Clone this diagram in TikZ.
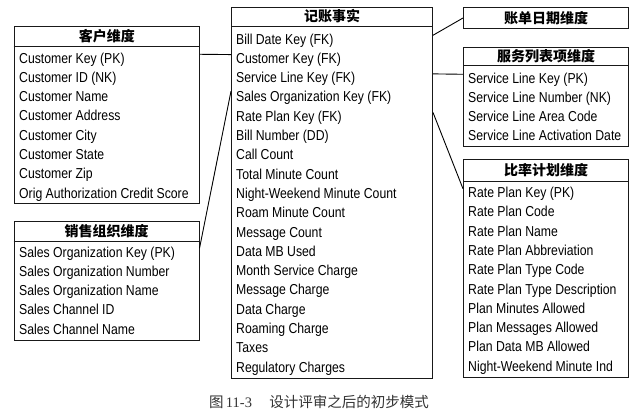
\documentclass[tikz,border=0pt]{standalone}
\usepackage{fontspec}
\setmainfont{Liberation Sans}[FakeStretch=0.85]
\newfontfamily\cjk{Noto Sans CJK SC}
\newfontfamily\capfont{Liberation Serif}
\begin{document}
\begin{tikzpicture}[x=1pt,y=-1pt,
  box/.style={draw=black!90, line width=1pt, inner sep=0pt, anchor=north west},
  hdr/.style={font=\cjk\bfseries\fontsize{14}{14}\selectfont, inner sep=0pt},
  row/.style={anchor=base west, inner sep=0pt, font=\fontsize{14.4}{14.4}\selectfont},
  link/.style={line width=0.9pt, draw=black}]
\useasboundingbox (0,0) rectangle (636,415);

% Customer dimension
\node[box, minimum width=185.5pt, minimum height=177pt] (custbox) at (13.5,26) {};
\draw[line width=1pt, black!90] ([yshift=-20.5pt]custbox.north west) -- ([yshift=-20.5pt]custbox.north east);
\node[hdr] (custhdr) at ([yshift=-10.5pt]custbox.north) {客户维度};
\foreach \t [count=\i] in {Customer Key (PK), Customer ID (NK), Customer Name, Customer Address, Customer City, Customer State, Customer Zip, Orig Authorization Credit Score}
  \node[row] (cu\i) at (19, {63+19.3*(\i-1)}) {\t};

% Sales organization dimension
\node[box, minimum width=185pt, minimum height=119pt] (sobox) at (13.5,221) {};
\draw[line width=1pt, black!90] ([yshift=-20pt]sobox.north west) -- ([yshift=-20pt]sobox.north east);
\node[hdr] (sohdr) at ([yshift=-10pt]sobox.north) {销售组织维度};
\foreach \t [count=\i] in {Sales Organization Key (PK), Sales Organization Number, Sales Organization Name, Sales Channel ID, Sales Channel Name}
  \node[row] (so\i) at (19, {257+19.3*(\i-1)}) {\t};

% Billing fact
\node[box, minimum width=201pt, minimum height=371pt] (factbox) at (231,7) {};
\draw[line width=1pt, black!90] ([yshift=-19pt]factbox.north west) -- ([yshift=-19pt]factbox.north east);
\node[hdr] (facthdr) at ([yshift=-9.5pt]factbox.north) {记账事实};
\foreach \t [count=\i] in {Bill Date Key (FK), Customer Key (FK), Service Line Key (FK), Sales Organization Key (FK), Rate Plan Key (FK), Bill Number (DD), Call Count, Total Minute Count, Night-Weekend Minute Count, Roam Minute Count, Message Count, Data MB Used, Month Service Charge, Message Charge, Data Charge, Roaming Charge, Taxes, Regulatory Charges}
  \node[row] (f\i) at (236, {44+19.3*(\i-1)}) {\t};

% Bill date dimension
\node[box, minimum width=165pt, minimum height=21pt] (datebox) at (463,7) {};
\node[hdr] (datehdr) at (datebox.center) {账单日期维度};

% Service line dimension
\node[box, minimum width=165pt, minimum height=99pt] (svbox) at (463,47) {};
\draw[line width=1pt, black!90] ([yshift=-18.5pt]svbox.north west) -- ([yshift=-18.5pt]svbox.north east);
\node[hdr] (svhdr) at ([yshift=-9.25pt]svbox.north) {服务列表项维度};
\foreach \t [count=\i] in {Service Line Key (PK), Service Line Number (NK), Service Line Area Code, Service Line Activation Date}
  \node[row] (sv\i) at (468, {83+19.3*(\i-1)}) {\t};

% Rate plan dimension
\node[box, minimum width=165pt, minimum height=218pt] (rpbox) at (463,159) {};
\draw[line width=1pt, black!90] ([yshift=-22pt]rpbox.north west) -- ([yshift=-22pt]rpbox.north east);
\node[hdr] (rphdr) at ([yshift=-11pt]rpbox.north) {比率计划维度};
\foreach \t [count=\i] in {Rate Plan Key (PK), Rate Plan Code, Rate Plan Name, Rate Plan Abbreviation, Rate Plan Type Code, Rate Plan Type Description, Plan Minutes Allowed, Plan Messages Allowed, Plan Data MB Allowed, Night-Weekend Minute Ind}
  \node[row] (rp\i) at (468, {197.5+19.3*(\i-1)}) {\t};

% Connectors (row centres are 5pt above the baselines)
\draw[link] ([yshift=5pt]custbox.east |- cu1) -- ([yshift=5pt]factbox.west |- f2);
\draw[link] ([yshift=7pt]factbox.west |- f4) -- ([yshift=5pt]sobox.east |- so1);
\draw[link] ([yshift=5pt]factbox.east |- f1) -- (datebox.west);
\draw[link] ([yshift=5pt]factbox.east |- f3) -- ([yshift=5pt]svbox.west |- sv1);
\draw[link] ([yshift=5pt]factbox.east |- f5) -- ([yshift=5pt]rpbox.west |- rp1);

% Caption
\node[inner sep=0pt, text=black!80] (cap) at (319,402) {\cjk\fontsize{14.5}{14.5}\selectfont 图\,{\capfont 11-3}\hspace{1.2em}设计评审之后的初步模式};
\end{tikzpicture}
\end{document}
